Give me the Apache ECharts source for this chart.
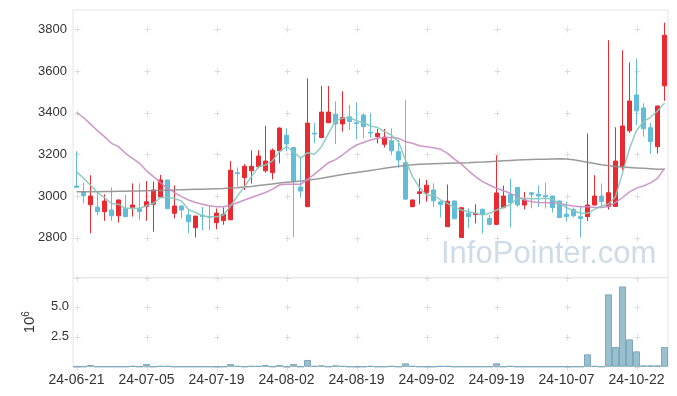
<!DOCTYPE html>
<html>
<head>
<meta charset="utf-8">
<script src="https://cdn.jsdelivr.net/npm/echarts/dist/echarts.min.js"></script>
<style>
html,body{margin:0;padding:0;background:#fff;}
#chart{width:677px;height:396px;}
</style>
</head>
<body>
<div id="chart"></div>
<script>
// ---- data ----
const dates = ['24-06-21','24-06-24','24-06-25','24-06-26','24-06-27','24-06-28',
'24-07-01','24-07-02','24-07-03','24-07-04','24-07-05',
'24-07-08','24-07-09','24-07-10','24-07-11','24-07-12',
'24-07-15','24-07-16','24-07-17','24-07-18','24-07-19',
'24-07-22','24-07-23','24-07-24','24-07-25','24-07-26',
'24-07-29','24-07-30','24-07-31','24-08-01','24-08-02',
'24-08-05','24-08-06','24-08-07','24-08-08','24-08-09',
'24-08-12','24-08-13','24-08-14','24-08-16','24-08-19',
'24-08-20','24-08-21','24-08-22','24-08-23',
'24-08-26','24-08-27','24-08-28','24-08-29','24-08-30','24-09-02',
'24-09-03','24-09-04','24-09-05','24-09-06',
'24-09-09','24-09-10','24-09-11','24-09-12','24-09-13','24-09-19',
'24-09-20','24-09-23','24-09-24','24-09-25','24-09-26','24-09-27',
'24-09-30','24-10-02','24-10-04','24-10-07',
'24-10-08','24-10-10','24-10-11',
'24-10-14','24-10-15','24-10-16','24-10-17','24-10-18',
'24-10-21','24-10-22','24-10-23','24-10-24','24-10-25','24-10-28'];

const openP = [3048,3020,2958,2947,2925,2933,2905,2939,2944,2939,
2949,2961,2995,3077,2917,2952,2909,2848,2908,2902,
2872,2882,2886,3112,3089,3121,3141,3121,3112,3217,
3292,3233,3043,2949,3302,3281,3352,3393,3346,3380,
3352,3389,3306,3285,3248,3265,3213,3160,2949,3012,
3016,3029,2972,2853,2976,2801,2917,2911,2936,2893,
2864,2944,3008,3041,2957,3016,3009,3003,3000,2976,
2913,2936,2901,2901,2957,3000,2950,2950,3141,3313,
3485,3423,3328,3237,3529];
const closeP = [3042,3001,3000,2925,2976,2905,2981,2901,2957,2925,
2973,3029,3077,2939,2952,2933,2877,2904,2902,2898,
2918,2912,3124,3108,3143,3143,3192,3168,3220,3326,
3250,3071,3024,3350,3298,3403,3403,3346,3377,3358,
3348,3333,3302,3301,3283,3217,3173,2985,2981,3020,
3052,2977,2960,2975,2891,2944,2901,2917,2912,2864,
3015,3000,2968,2957,2981,3008,3000,2996,2945,2897,
2901,2905,2892,2957,3000,2973,3016,3168,3336,3456,
3409,3323,3261,3432,3772];
const lowP = [3040,2965,2821,2909,2881,2881,2873,2901,2901,2885,
2881,2829,2995,2939,2893,2893,2821,2801,2835,2837,
2840,2862,2885,3045,3029,3060,3133,3112,3080,3157,
3215,2803,2992,2948,3253,3278,3350,3249,3309,3318,
3272,3277,3280,3253,3233,3197,3133,2985,2947,2960,
2973,2948,2897,2852,2889,2800,2847,2868,2820,2858,
2862,2942,2850,2948,2936,2941,2947,2940,2920,2895,
2879,2897,2801,2880,2955,2945,2935,2948,3125,3304,
3340,3285,3201,3204,3457];
const highP = [3215,3064,3100,3025,3008,3041,2984,3005,3061,3061,
3072,3069,3101,3077,3051,2955,2933,2904,2948,2955,
2940,2945,3168,3137,3153,3220,3220,3336,3228,3330,
3325,3236,3189,3565,3352,3528,3528,3455,3503,3438,
3450,3397,3397,3322,3322,3325,3269,3460,2983,3083,
3077,3061,2974,3055,2978,2946,2941,2960,2940,2909,
3195,3050,3083,3043,3020,3018,3050,3064,3002,2978,
2973,2945,2949,3300,3100,3060,3748,3330,3700,3641,
3661,3445,3352,3434,3832];

const ma5 = [3117,3085,3053,3016,2992,2964,2961,2941,2941,2941,
2953,2965,2993,2993,2989,2976,2935,2921,2904,2901,
2901,2909,2952,3000,3045,3093,3141,3149,3169,3213,
3237,3213,3181,3208,3201,3237,3301,3361,3373,3377,
3361,3352,3336,3329,3309,3293,3261,3173,3093,3041,
3005,3005,2981,2965,2945,2933,2925,2917,2909,2917,
2933,2945,2961,2989,2989,2987,2987,2989,2984,2965,
2945,2929,2917,2917,2936,2952,2962,2997,3110,3228,
3315,3357,3378,3408,3446];
const ma20 = [3401,3377,3345,3313,3285,3253,3237,3205,3181,3157,
3121,3093,3064,3037,3016,2997,2981,2969,2961,2953,
2949,2949,2957,2968,2981,2993,3005,3017,3033,3053,
3056,3056,3056,3080,3105,3133,3160,3175,3197,3224,
3245,3257,3269,3277,3281,3281,3277,3261,3253,3241,
3237,3232,3225,3205,3177,3153,3121,3093,3069,3053,
3037,3025,3013,2997,2981,2973,2969,2968,2968,2965,
2957,2952,2949,2949,2945,2945,2950,2968,2993,3020,
3038,3048,3063,3085,3133];
const ma60 = [3020,3020,3021,3021,3022,3022,3023,3023,3024,3024,
3025,3026,3027,3028,3029,3030,3031,3032,3033,3034,
3035,3036,3038,3040,3043,3046,3050,3054,3058,3062,
3066,3069,3072,3076,3080,3085,3091,3097,3103,3108,
3113,3118,3123,3128,3133,3138,3143,3147,3150,3152,
3154,3155,3156,3157,3158,3159,3160,3162,3163,3165,
3167,3169,3171,3173,3174,3175,3176,3177,3178,3179,
3178,3174,3168,3162,3156,3150,3145,3142,3139,3137,
3135,3133,3131,3129,3128];

const volume = [0,0,140000,0,0,0,0,0,60000,0,
220000,0,60000,60000,0,0,0,0,0,0,
0,0,220000,60000,0,60000,60000,140000,0,140000,
0,220000,0,560000,60000,110000,0,110000,60000,0,
0,0,60000,0,0,60000,0,280000,60000,0,
0,0,60000,60000,0,0,0,0,0,0,
280000,0,60000,0,0,0,0,0,0,0,
0,0,0,1030000,60000,0,6030000,1640000,6690000,2280000,
1280000,110000,110000,110000,1640000];

const priceTicks = [2800,3000,3200,3400,3600,3800];
const volTicks = [0,2500000,5000000,7420000];
const labelEvery = 10;

// ---- build ----
const candles = dates.map((d,i)=>[openP[i],closeP[i],lowP[i],highP[i]]);
const tickIdx = dates.map((d,i)=>i).filter(i=>i%labelEvery===0);
const crossMain = [];
tickIdx.forEach(i=>priceTicks.forEach(v=>crossMain.push([i,v])));
const crossVol = [];
tickIdx.forEach(i=>volTicks.forEach(v=>crossVol.push([i,v])));

const RED='#ea2a31', BLUE='#63bdd7', GRIDC='#e4e4e4';
function crossItem(params, api){
  const p = api.coord([api.value(0), api.value(1)]);
  const x = Math.round(p[0])+0.5, y = Math.round(p[1])+0.5;
  return {type:'group', children:[
    {type:'line', shape:{x1:x-3,y1:y,x2:x+3,y2:y}, style:{stroke:'#dedede',lineWidth:1}},
    {type:'line', shape:{x1:x,y1:y-3,x2:x,y2:y+3}, style:{stroke:'#dedede',lineWidth:1}}
  ]};
}

const chart = echarts.init(document.getElementById('chart'), null, {renderer:'canvas'});
chart.setOption({
  animation:false,
  textStyle:{fontFamily:'Liberation Sans, Arial, sans-serif'},
  grid:[
    {left:73, right:9, top:10, height:267.7, show:true, borderColor:GRIDC, borderWidth:1, backgroundColor:'transparent'},
    {left:73, right:9, top:277.7, height:89, show:true, borderColor:GRIDC, borderWidth:1, backgroundColor:'transparent'}
  ],
  xAxis:[
    {type:'category', gridIndex:0, data:dates, boundaryGap:true,
     axisLine:{show:false}, axisTick:{show:false}, axisLabel:{show:false}, splitLine:{show:false}},
    {type:'category', gridIndex:1, data:dates, boundaryGap:true,
     axisLine:{show:true, lineStyle:{color:GRIDC}}, axisTick:{show:false},
     axisLabel:{interval:labelEvery-1, color:'#333', fontSize:14, margin:6},
     splitLine:{show:false}}
  ],
  yAxis:[
    {type:'value', gridIndex:0, min:2608, max:3893, splitNumber:6,
     axisLine:{show:false}, axisTick:{show:false}, splitLine:{show:false},
     axisLabel:{color:'#333', fontSize:13, margin:6, showMinLabel:false, showMaxLabel:false,
       formatter:v=>String(v)}},
    {type:'value', gridIndex:1, min:0, max:7420000, interval:2500000,
     axisLine:{show:false}, axisTick:{show:false}, splitLine:{show:false},
     axisLabel:{color:'#333', fontSize:13, margin:4, showMaxLabel:false,
       formatter:v=> v===0 ? '' : (v/1e6).toFixed(1)},
     name:'{a|10}{b|6}', nameLocation:'middle', nameRotate:90, nameGap:34,
     nameTextStyle:{rich:{a:{fontSize:15,color:'#333'}, b:{fontSize:10,color:'#333',padding:[0,0,8,0]}}}}
  ],
  graphic:[{type:'text', z:0, silent:true,
    style:{text:'InfoPointer.com', x:441, y:254, verticalAlign:'middle', textAlign:'left',
           font:'31px "Liberation Sans", Arial, sans-serif', fill:'#cddce6'}}],
  series:[
    {type:'custom', xAxisIndex:0, yAxisIndex:0, data:crossMain, renderItem:crossItem, silent:true, z:1},
    {type:'custom', xAxisIndex:1, yAxisIndex:1, data:crossVol, renderItem:crossItem, silent:true, z:1},
    {type:'candlestick', xAxisIndex:0, yAxisIndex:0, data:candles, barWidth:5, z:2,
     itemStyle:{color:RED, color0:BLUE, borderColor:RED, borderColor0:BLUE, borderWidth:1}},
    {type:'line', xAxisIndex:0, yAxisIndex:0, data:ma60, symbol:'none', z:3,
     lineStyle:{color:'#8f8f8f', width:1.5, opacity:0.9}},
    {type:'line', xAxisIndex:0, yAxisIndex:0, data:ma20, symbol:'none', z:3,
     lineStyle:{color:'#c98bc4', width:1.5, opacity:0.9}},
    {type:'line', xAxisIndex:0, yAxisIndex:0, data:ma5, symbol:'none', z:3,
     lineStyle:{color:'#86c8bd', width:1.5, opacity:0.9}},
    {type:'bar', xAxisIndex:1, yAxisIndex:1, data:volume, barCategoryGap:'0%', z:2,
     itemStyle:{color:'#9ac0d0', borderColor:'#7ea9bd', borderWidth:1}}
  ]
});
</script>
</body>
</html>
